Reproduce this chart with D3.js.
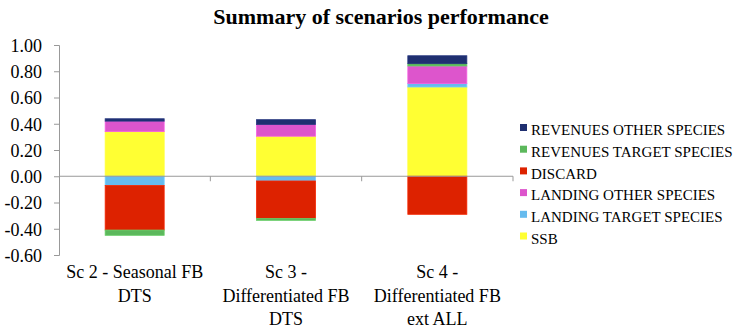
<!DOCTYPE html>
<html><head><meta charset="utf-8">
<script src="https://cdn.jsdelivr.net/npm/d3@7"></script>
</head><body style="margin:0"><svg id="c" width="737" height="336" font-family="Times New Roman"></svg>
<script>
const categories = [["Sc 2 - Seasonal FB","DTS"],["Sc 3 -","Differentiated FB","DTS"],["Sc 4 -","Differentiated FB","ext ALL"]];
const seriesNames = ["SSB","LANDING TARGET SPECIES","LANDING OTHER SPECIES","DISCARD","REVENUES TARGET SPECIES","REVENUES OTHER SPECIES"];
const ssb = [0.34, 0.305, 0.68];
const landingTarget = [-0.07, -0.036, 0.026];
const landingOther = [0.08, 0.09, 0.134];
const discard = [-0.34, -0.285, -0.29];
const revenuesTarget = [-0.04, -0.015, 0.018];
const revenuesOther = [0.018, 0.036, 0.06];
const yTicks = [1.0,0.8,0.6,0.4,0.2,0,-0.2,-0.4,-0.6];
const colors = ["#FFFF33","#66BBEE","#DD55CC","#DD2200","#5CB85C","#1F2F70"];

const FONT = "Times New Roman";
const values = [ssb, landingTarget, landingOther, discard, revenuesTarget, revenuesOther];
const rows = categories.map((c,i)=>{const r={i}; seriesNames.forEach((s,j)=>r[s]=values[j][i]); return r;});
const stack = d3.stack().keys(seriesNames).offset(d3.stackOffsetDiverging)(rows);

const svg = d3.select("#c");
const x = d3.scaleBand().domain(d3.range(categories.length)).range([59,513]);
const y = d3.scaleLinear().domain([-0.6,1]).range([255,45]);

svg.append("text").attr("x",381).attr("y",24).attr("text-anchor","middle").attr("font-family",FONT)
  .attr("font-size",22).attr("font-weight","bold").text("Summary of scenarios performance");

// y axis
const ya = svg.append("g").attr("transform","translate(59,0)")
  .call(d3.axisLeft(y).tickValues(yTicks).tickFormat(d3.format(".2f")).tickSizeOuter(0).tickSize(5).tickPadding(12));
ya.attr("font-family",FONT).attr("font-size",18);
ya.select(".domain").attr("stroke","#999");
ya.selectAll(".tick line").attr("stroke","#999");
ya.selectAll(".tick text").attr("fill","#000").attr("dy","0.35em").attr("font-family",FONT)
  .text(d=>d3.format(".2f")(d).replace("−","-"));

const bw = x.bandwidth()*0.39;
svg.append("g").selectAll("g").data(stack).join("g")
  .attr("fill",(d,i)=>colors[i]).attr("stroke",(d,i)=>d3.color(colors[i]).brighter(0.3)).attr("stroke-width",0.8)
  .selectAll("rect").data(d=>d).join("rect")
  .attr("x",(d,i)=>x(i)+x.bandwidth()/2-bw/2).attr("width",bw)
  .attr("y",d=>y(Math.max(d[0],d[1]))).attr("height",d=>Math.abs(y(d[0])-y(d[1])));

// x axis at zero
const xa = svg.append("g").attr("transform",`translate(0,${y(0)})`);
xa.append("line").attr("x1",59).attr("x2",513).attr("stroke","#999");
xa.selectAll("line.t").data(d3.range(1,categories.length+1)).join("line").attr("class","t")
  .attr("x1",i=>x.range()[0]+i*x.step()).attr("x2",i=>x.range()[0]+i*x.step()).attr("y1",0).attr("y2",5).attr("stroke","#999");

// category labels: one text per line
const labelLines = categories.flatMap((lines,i)=>lines.map((t,j)=>({t,i,j})));
svg.append("g").selectAll("text").data(labelLines).join("text")
  .attr("x",d=>x(d.i)+x.bandwidth()/2).attr("y",d=>278+d.j*23.5).attr("text-anchor","middle")
  .attr("font-family",FONT).attr("font-size",18).text(d=>d.t);

// legend
const legOrder = seriesNames.map((s,i)=>({s,c:colors[i]})).reverse();
const lg = svg.append("g").selectAll("g").data(legOrder).join("g")
  .attr("transform",(d,i)=>`translate(520,${130+i*21.7})`);
lg.append("rect").attr("x",0).attr("y",-6).attr("width",7).attr("height",7).attr("fill",d=>d.c);
lg.append("text").attr("x",11).attr("y",0).attr("dy","0.35em").attr("font-family",FONT).attr("font-size",15).text(d=>d.s);
</script></body></html>
